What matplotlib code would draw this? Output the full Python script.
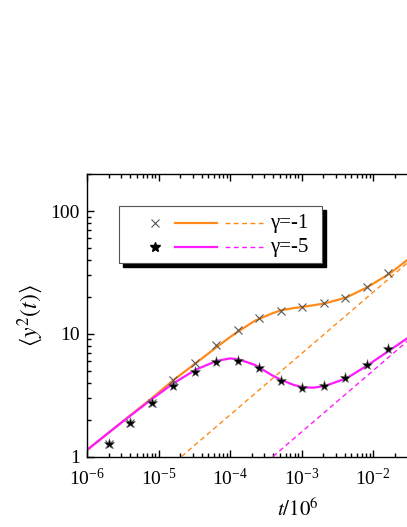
import matplotlib
matplotlib.use("Agg")
import matplotlib.pyplot as plt
import numpy as np
from matplotlib.patches import Rectangle
from matplotlib.ticker import FuncFormatter, LogLocator, NullFormatter

plt.rcParams["font.family"] = "serif"
plt.rcParams["font.serif"] = ["Liberation Serif", "DejaVu Serif"]
plt.rcParams["mathtext.fontset"] = "stix"

# simulation points (t/10^6 = 2e-6 * 2^k)
T_PTS = [2e-6, 4e-6, 8e-6, 1.6e-5, 3.2e-5, 6.4e-5, 1.28e-4, 2.56e-4,
         5.12e-4, 1.024e-3, 2.048e-3, 4.096e-3, 8.192e-3, 1.6384e-2]
Y_G1_PTS = [1.26, 1.87, 2.73, 4.2, 5.82, 8.1, 10.7, 13.4,
            15.4, 16.6, 17.7, 19.7, 23.9, 31.1]
Y_G5_PTS = [1.26, 1.86, 2.71, 3.76, 4.91, 5.86, 6.04, 5.26,
            4.15, 3.64, 3.76, 4.36, 5.53, 7.48]

LOGT_CURVE = [-6.0, -5.56, -5.095, -4.79, -4.48, -4.19, -4.0, -3.88, -3.65,
              -3.42, -3.28, -3.11, -2.975, -2.83, -2.67, -2.37, -2.09,
              -1.76, -1.52]
Y_G1_CURVE = [1.13, 1.81, 2.98, 4.2, 5.75, 7.77, 9.4, 10.5, 12.8,
              14.6, 15.6, 16.2, 16.6, 17.1, 17.7, 19.8, 23.8,
              31.1, 40.0]
Y_G5_CURVE = [1.13, 1.81, 2.93, 3.95, 5.1, 6.0, 6.3, 6.2, 5.57,
              4.62, 4.2, 3.83, 3.66, 3.64, 3.76, 4.34, 5.47,
              7.38, 9.2]

# asymptotic t^(1/2) lines (end points)
T_DASH_G1 = [2.1e-5, 10 ** -1.52]
Y_DASH_G1 = [1.0, 37.8]
T_DASH_G5 = [4.0e-4, 10 ** -1.52]
Y_DASH_G5 = [1.0, 8.7]

LABELS = ["γ=-1", "γ=-5"]
ORANGE = "#ff8a1c"
MAGENTA = "#ff1aff"

fig = plt.figure(figsize=(4.07, 5.27), dpi=100)
ax = fig.add_axes([87 / 407, 70.5 / 527, 320 / 407, 282.5 / 527])

t_curve = 10 ** np.array(LOGT_CURVE)
ax.plot(T_DASH_G1, Y_DASH_G1, color=ORANGE, lw=1.0, dashes=(3.5, 2.5))
ax.plot(T_DASH_G5, Y_DASH_G5, color=MAGENTA, lw=1.0, dashes=(3.5, 2.5))
ax.plot(t_curve, Y_G1_CURVE, color=ORANGE, lw=1.6)
ax.plot(t_curve, Y_G5_CURVE, color=MAGENTA, lw=1.6)
ax.plot(T_PTS, Y_G1_PTS, ls="none", marker="x", color="#555555", ms=6, mew=0.8)
ax.plot(T_PTS, Y_G5_PTS, ls="none", marker="*", color="black", ms=8,
        mec="#666666", mew=0.4)

ax.set_xscale("log")
ax.set_yscale("log")
ax.set_xlim(1e-6, 10 ** (-6 + 320 / 71.5))
ax.set_ylim(1, 10 ** (282.5 / 122.7))

ax.xaxis.set_major_locator(LogLocator(base=10, numticks=10))
ax.xaxis.set_minor_locator(LogLocator(base=10, subs=np.arange(2, 10), numticks=20))
ax.xaxis.set_minor_formatter(NullFormatter())
ax.yaxis.set_major_formatter(FuncFormatter(lambda v, p: f"{v:g}"))
ax.yaxis.set_minor_formatter(NullFormatter())

ax.tick_params(which="both", direction="in", top=True, right=False,
               labelsize=14, width=1.0)
ax.tick_params(which="major", length=5)
ax.tick_params(which="minor", length=3)
ax.tick_params(axis="x", pad=8)
ax.tick_params(axis="y", pad=5)
ax.spines["right"].set_visible(False)
for s in ("left", "top", "bottom"):
    ax.spines[s].set_linewidth(1.0)

ax.set_ylabel(r"$\left\langle y^2(t)\right\rangle$", fontsize=17, labelpad=4)
ax.set_xlabel(r"$t/10^6$", fontsize=15)
ax.xaxis.set_label_coords(0.66, -0.15)

# legend box with black shadow
tr = ax.transAxes
ax.add_patch(Rectangle((0.1125, 0.672), 0.634, 0.201, transform=tr,
                       facecolor="black", edgecolor="black", zorder=5))
ax.add_patch(Rectangle((0.1, 0.686), 0.634, 0.201, transform=tr,
                       facecolor="white", edgecolor="#555555", lw=0.8, zorder=6))
rows = [0.825, 0.741]
ax.plot([0.2125], [rows[0]], transform=tr, marker="x", color="#555555",
        ms=6, mew=0.8, zorder=7)
ax.plot([0.2125], [rows[1]], transform=tr, marker="*", color="black",
        ms=7, zorder=7)
for yy, col, lab in zip(rows, [ORANGE, MAGENTA], LABELS):
    ax.plot([0.275, 0.405], [yy, yy], transform=tr, color=col, lw=1.6, zorder=7)
    ax.plot([0.431, 0.551], [yy, yy], transform=tr, color=col, lw=1.0,
            dashes=(3.5, 2.5), zorder=7)
    ax.text(0.572, yy, lab, transform=tr, fontsize=15, va="center",
            ha="left", zorder=7)

fig.savefig("out.png", dpi=100)
